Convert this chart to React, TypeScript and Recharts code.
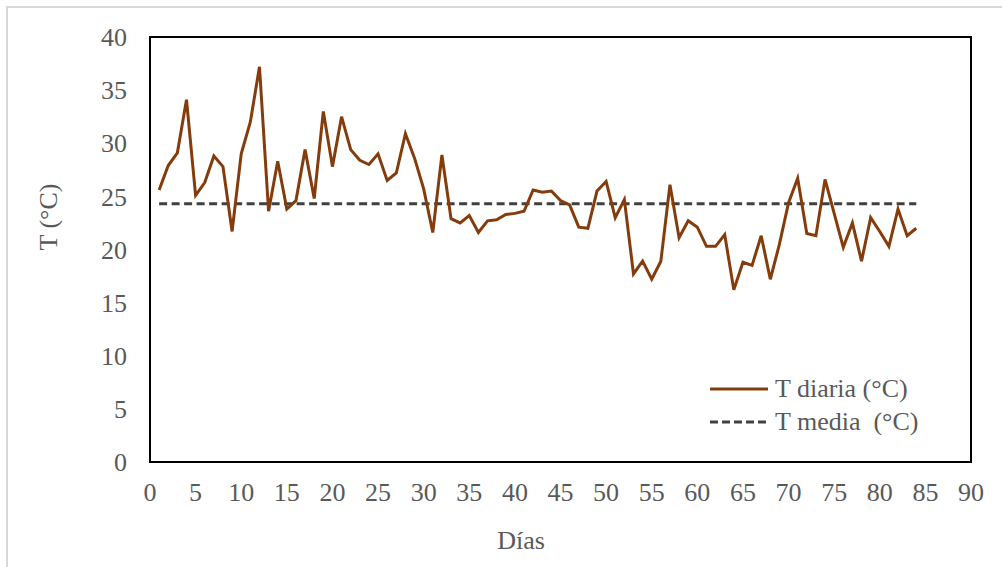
import React from 'react';
import { LineChart, Line, XAxis, YAxis, ReferenceArea, Legend } from 'recharts';

const days: number[] = Array.from({ length: 84 }, (_, i) => i + 1);
const tDiaria: number[] = [
  25.6, 27.9, 29.1, 34.1, 25.1, 26.3, 28.8, 27.8, 21.7, 29.0,
  32.0, 37.2, 23.6, 28.3, 23.8, 24.6, 29.4, 24.8, 33.0, 27.8,
  32.5, 29.4, 28.4, 28.0, 29.0, 26.5, 27.2, 30.9, 28.6, 25.7,
  21.6, 28.9, 22.9, 22.5, 23.2, 21.6, 22.7, 22.8, 23.3, 23.4,
  23.6, 25.6, 25.4, 25.5, 24.6, 24.2, 22.1, 22.0, 25.5, 26.4,
  23.0, 24.7, 17.7, 18.9, 17.2, 18.9, 26.1, 21.1, 22.7, 22.1,
  20.3, 20.3, 21.4, 16.2, 18.8, 18.5, 21.3, 17.2, 20.5, 24.4,
  26.7, 21.5, 21.3, 26.6, 23.4, 20.2, 22.5, 18.9, 23.0, 21.7,
  20.3, 23.8, 21.3, 22.0,
];
const tMedia = 24.3;
const xTicks: number[] = [0, 5, 10, 15, 20, 25, 30, 35, 40, 45, 50, 55, 60, 65, 70, 75, 80, 85, 90];
const yTicks: number[] = [0, 5, 10, 15, 20, 25, 30, 35, 40];
const seriesNames: string[] = ['T diaria (°C)', 'T media  (°C)'];

const data = days.map((d, i) => ({ dia: d, diaria: tDiaria[i], media: tMedia }));

const FONT = '"Liberation Serif", "Times New Roman", serif';
const FS = 26;
const TXT = '#595959';
const BROWN = '#843C0C';
const DASH = '#404040';

const LegendContent = () => (
  <div style={{ fontFamily: FONT, fontSize: FS, color: TXT, lineHeight: '33px' }}>
    <div style={{ display: 'flex', alignItems: 'center' }}>
      <svg width={65} height={10}>
        <line x1={0} y1={5} x2={58} y2={5} stroke={BROWN} strokeWidth={3} />
      </svg>
      <span style={{ whiteSpace: 'pre' }}>{seriesNames[0]}</span>
    </div>
    <div style={{ display: 'flex', alignItems: 'center' }}>
      <svg width={65} height={10}>
        <line x1={0} y1={5} x2={58} y2={5} stroke={DASH} strokeWidth={3} strokeDasharray="8 4" />
      </svg>
      <span style={{ whiteSpace: 'pre' }}>{seriesNames[1]}</span>
    </div>
  </div>
);

export default function App() {
  return (
    <div style={{ position: 'absolute', left: 0, top: 0, width: 1002, height: 567, background: '#fff' }}>
      <div
        style={{
          position: 'absolute',
          left: 6,
          top: 6,
          width: 996,
          height: 561,
          borderTop: '2px solid #d9d9d9',
          borderLeft: '2px solid #d9d9d9',
          boxSizing: 'border-box',
        }}
      />
      <LineChart
        width={1002}
        height={567}
        data={data}
        margin={{ top: 37, right: 31, bottom: 0, left: 0 }}
        style={{ position: 'absolute', left: 0, top: 0 }}
      >
        <XAxis
          dataKey="dia"
          type="number"
          domain={[0, 90]}
          ticks={xTicks}
          interval={0}
          height={105}
          axisLine={false}
          tickLine={false}
          tickSize={0}
          tickMargin={21}
          tick={{ fill: TXT, fontSize: FS, fontFamily: FONT }}
          label={{
            content: () => (
              <text x={521} y={549} textAnchor="middle" fill={TXT} fontSize={FS} fontFamily={FONT}>
                Días
              </text>
            ),
          }}
        />
        <YAxis
          type="number"
          domain={[0, 40]}
          ticks={yTicks}
          interval={0}
          width={150}
          axisLine={false}
          tickLine={false}
          tickSize={0}
          tickMargin={23}
          tick={{ fill: TXT, fontSize: FS, fontFamily: FONT }}
          label={{
            content: () => (
              <text
                x={48}
                y={217}
                transform="rotate(-90 48 217)"
                textAnchor="middle"
                dominantBaseline="central"
                fill={TXT}
                fontSize={FS}
                fontFamily={FONT}
              >
                T (°C)
              </text>
            ),
          }}
        />
        <ReferenceArea x1={0} x2={90} y1={0} y2={40} fill="none" stroke="#000" strokeWidth={2} ifOverflow="visible" />
        <Line
          dataKey="media"
          stroke={DASH}
          strokeWidth={3}
          strokeDasharray="8 4.5"
          dot={false}
          isAnimationActive={false}
        />
        <Line
          dataKey="diaria"
          stroke={BROWN}
          strokeWidth={3}
          dot={false}
          isAnimationActive={false}
        />
        <Legend
          layout="vertical"
          align="center"
          verticalAlign="middle"
          content={<LegendContent />}
          wrapperStyle={{ position: 'absolute', left: 710, top: 372, width: 280 }}
        />
      </LineChart>
    </div>
  );
}
